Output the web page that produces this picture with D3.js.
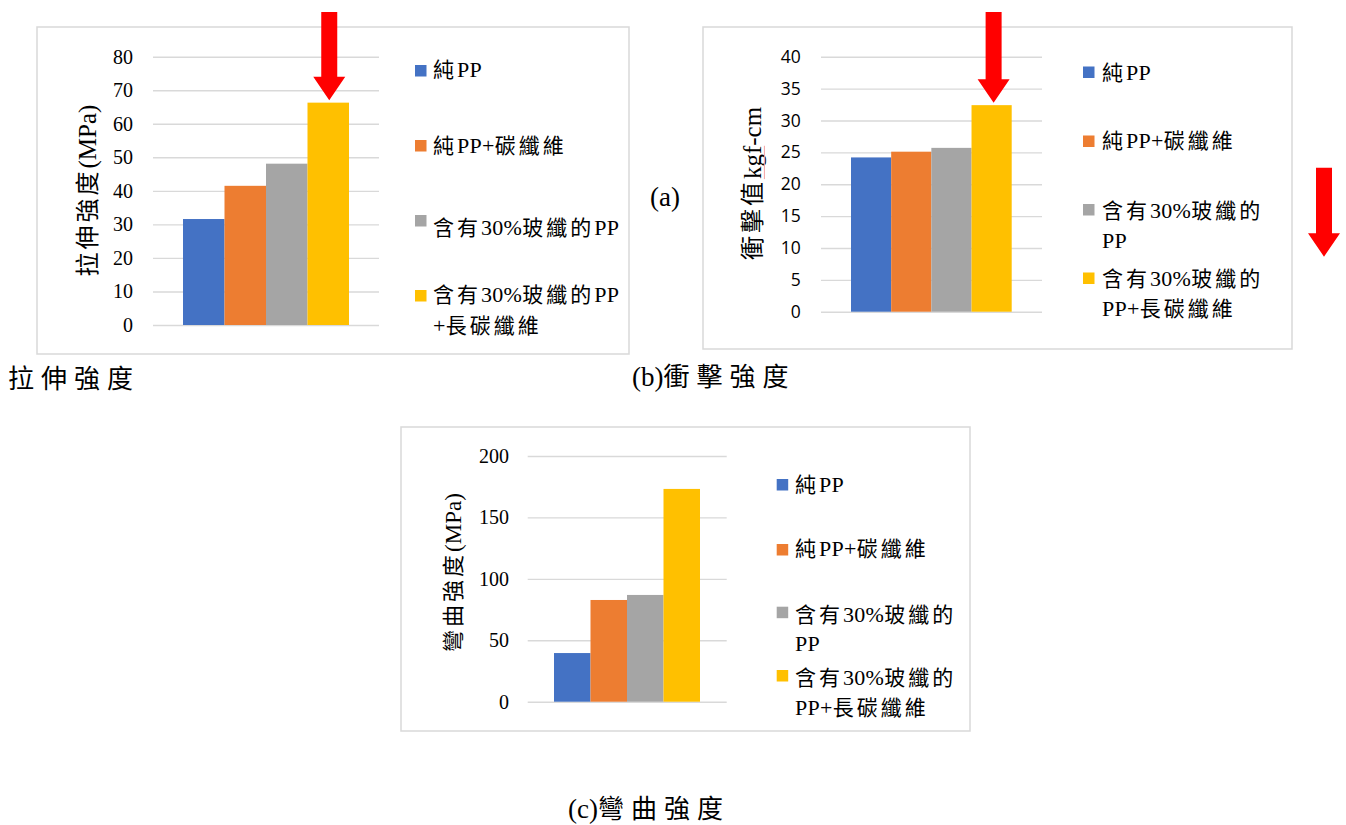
<!DOCTYPE html>
<html>
<head>
<meta charset="utf-8">
<script src="https://cdn.jsdelivr.net/npm/d3@7"></script>
<style>
  html, body { margin: 0; padding: 0; background: #fff; }
  svg { display: block; }
  text { font-family: "Liberation Serif", "Noto Sans CJK TC", serif; fill: #000; }
</style>
</head>
<body>
<svg id="fig" width="1346" height="825"></svg>
<script>
// Material series (legend order = bar order)
const seriesNames = ["純PP", "純PP+碳纖維", "含有30%玻纖的PP", "含有30%玻纖的PP+長碳纖維"];
const seriesColors = ["#4472C4", "#ED7D31", "#A5A5A5", "#FFC000"];

// Measured strengths
const tensileValues = [31.6, 41.5, 48.1, 66.3];     // MPa
const impactValues = [24.2, 25.1, 25.7, 32.4];      // kgf-cm
const flexuralValues = [39.6, 82.8, 86.9, 173.2];   // MPa

// Axis ticks
const tensileTicks = [0, 10, 20, 30, 40, 50, 60, 70, 80];
const impactTicks = [0, 5, 10, 15, 20, 25, 30, 35, 40];
const flexuralTicks = [0, 50, 100, 150, 200];

// Legend entries, wrapped as displayed
const legendLinesWide = [["純PP"], ["純PP+碳纖維"], ["含有30%玻纖的PP"], ["含有30%玻纖的PP", "+長碳纖維"]];
const legendLinesNarrow = [["純PP"], ["純PP+碳纖維"], ["含有30%玻纖的", "PP"], ["含有30%玻纖的", "PP+長碳纖維"]];

const svg = d3.select("#fig");
const GRID = "#d9d9d9";
const RED = "#ff0000";
const CJK_RUN = /[\u3000-\u9fff\uff00-\uffef]+|[^\u3000-\u9fff\uff00-\uffef]+/g;

// Append a string as tspans, spacing the Han characters wider than the Latin ones
function addRuns(textSel, str, opts, first) {
  const runs = str.match(CJK_RUN) || [];
  runs.forEach((run, k) => {
    const isCjk = /[\u3000-\u9fff\uff00-\uffef]/.test(run);
    const ts = textSel.append("tspan").text(run)
      .style("letter-spacing", (isCjk ? opts.cjkSpacing : opts.latinSpacing) + "px");
    if (!isCjk && opts.latinSize) ts.style("font-size", opts.latinSize + "px");
    if (k === 0 && first) first(ts);
  });
}

function downArrow(g, cx, tipY, topY) {
  const hw = 16, sw = 8, hh = 23.5;
  const pts = [
    [cx - sw, topY], [cx + sw, topY], [cx + sw, tipY - hh], [cx + hw, tipY - hh],
    [cx, tipY], [cx - hw, tipY - hh], [cx - sw, tipY - hh]
  ];
  g.append("path").attr("d", d3.line()(pts) + "Z").attr("fill", RED);
}

function drawChart(cfg) {
  const g = svg.append("g");
  const [bx0, by0, bx1, by1] = cfg.box;
  g.append("rect")
    .attr("x", bx0).attr("y", by0)
    .attr("width", bx1 - bx0).attr("height", by1 - by0)
    .attr("fill", "#fff").attr("stroke", GRID).attr("stroke-width", 1.5);

  const y = d3.scaleLinear().domain(d3.extent(cfg.ticks)).range([cfg.yBottom, cfg.yTop]);
  const x = d3.scaleBand().domain(seriesNames).range([cfg.barL, cfg.barR]).padding(0);

  const axis = d3.axisLeft(y)
    .tickValues(cfg.ticks)
    .tickSize(-(cfg.gridR - cfg.gridL))
    .tickPadding(cfg.gridL - cfg.tickEnd)
    .tickFormat(d3.format("d"));
  const ax = g.append("g").attr("transform", `translate(${cfg.gridL},0)`).call(axis);
  ax.select(".domain").remove();
  ax.selectAll(".tick line").attr("stroke", GRID).attr("stroke-width", 1.4);
  ax.selectAll(".tick text")
    .attr("fill", "#000")
    .style("font-family", cfg.tickFont)
    .style("font-size", cfg.tickSize + "px");

  g.selectAll("rect.bar")
    .data(cfg.values)
    .join("rect")
    .attr("class", "bar")
    .attr("x", (d, i) => x(seriesNames[i]))
    .attr("width", x.bandwidth())
    .attr("y", d => y(d))
    .attr("height", d => y(0) - y(d))
    .attr("fill", (d, i) => seriesColors[i]);

  // rotated axis title
  const tg = g.append("g").attr("transform", `translate(${cfg.titleX},${cfg.titleY}) rotate(-90)`);
  const tt = tg.append("text")
    .attr("text-anchor", "middle")
    .attr("dy", "0.35em")
    .style("font-size", cfg.titleSize + "px");
  addRuns(tt, cfg.title, { cjkSpacing: 3, latinSpacing: 0, latinSize: cfg.titleSize + 1 });
  if (cfg.underline) {
    const el = tt.node();
    const full = el.getComputedTextLength();
    const i0 = cfg.title.indexOf(cfg.underline);
    const start = -full / 2 + (i0 > 0 ? el.getSubStringLength(0, i0) : 0);
    const len = el.getSubStringLength(i0, cfg.underline.length);
    tg.append("line")
      .attr("x1", start).attr("x2", start + len)
      .attr("y1", cfg.titleSize * 0.35 + 3).attr("y2", cfg.titleSize * 0.35 + 3)
      .attr("stroke", "#f4a3a3").attr("stroke-width", 1);
  }

  // legend
  const lg = g.append("g");
  cfg.legendLines.forEach((lines, i) => {
    lg.append("rect")
      .attr("x", cfg.legendX).attr("y", cfg.legendSquareY[i])
      .attr("width", 11.5).attr("height", 11.5)
      .attr("fill", seriesColors[i]);
    const t = lg.append("text").style("font-size", "21px");
    lines.forEach((line, j) => {
      addRuns(t, line, { cjkSpacing: 3, latinSpacing: 0.3, latinSize: 22 }, ts =>
        ts.attr("x", cfg.legendX + cfg.legendTextDx).attr("y", cfg.legendBaselines[i][j]));
    });
  });

  // highlight arrow over the strongest series
  if (cfg.arrow) {
    const last = seriesNames.length - 1;
    const cx = x(seriesNames[last]) + x.bandwidth() / 2 + cfg.arrow.dx;
    downArrow(g, cx, y(cfg.values[last]) - 2.5, 12);
  }
}

function caption(xPos, yPos, str) {
  const t = svg.append("text").attr("x", xPos).attr("y", yPos).style("font-size", "26px");
  addRuns(t, str, { cjkSpacing: 7, latinSpacing: 0, latinSize: 27 });
}

// (a) tensile strength
drawChart({
  box: [37, 27, 629, 354],
  ticks: tensileTicks, values: tensileValues,
  yBottom: 325, yTop: 56.7,
  gridL: 153, gridR: 379, tickEnd: 133,
  barL: 183, barR: 349,
  tickFont: "Liberation Serif", tickSize: 20,
  title: "拉伸強度(MPa)", titleX: 88, titleY: 190.5, titleSize: 24,
  legendLines: legendLinesWide, legendX: 415, legendTextDx: 18,
  legendSquareY: [65, 140, 215, 290],
  legendBaselines: [[77], [152.5], [235], [302, 333]],
  arrow: { dx: 1 }
});

// (b) impact strength
drawChart({
  box: [703, 27, 1292, 349],
  ticks: impactTicks, values: impactValues,
  yBottom: 311.7, yTop: 56.7,
  gridL: 821, gridR: 1042, tickEnd: 800.7,
  barL: 851, barR: 1011.7,
  tickFont: "Open Sans", tickSize: 17.5,
  title: "衝擊值kgf-cm", titleX: 753, titleY: 183.5, titleSize: 24, underline: "kgf",
  legendLines: legendLinesNarrow, legendX: 1083, legendTextDx: 19,
  legendSquareY: [66.5, 135.5, 204, 272.5],
  legendBaselines: [[79.5], [147.5], [218, 248], [286, 315.5]],
  arrow: { dx: 2 }
});

// (c) flexural strength
drawChart({
  box: [401, 427, 970, 731],
  ticks: flexuralTicks, values: flexuralValues,
  yBottom: 701.7, yTop: 456,
  gridL: 527.7, gridR: 726.7, tickEnd: 509,
  barL: 554, barR: 700,
  tickFont: "Liberation Serif", tickSize: 20,
  title: "彎曲強度(MPa)", titleX: 453, titleY: 572.5, titleSize: 22,
  legendLines: legendLinesNarrow, legendX: 776.7, legendTextDx: 18.3,
  legendSquareY: [479, 544, 606.7, 670],
  legendBaselines: [[492], [556], [622, 651], [685, 715]],
  arrow: null
});

// standalone arrow at the right margin
downArrow(svg.append("g"), 1324, 256.7, 167.7);

// sub-figure captions
caption(8, 388, "拉伸強度");
caption(632, 386, "(b)衝擊強度");
caption(650, 206, "(a)");
caption(568, 818, "(c)彎曲強度");
</script>
</body>
</html>
